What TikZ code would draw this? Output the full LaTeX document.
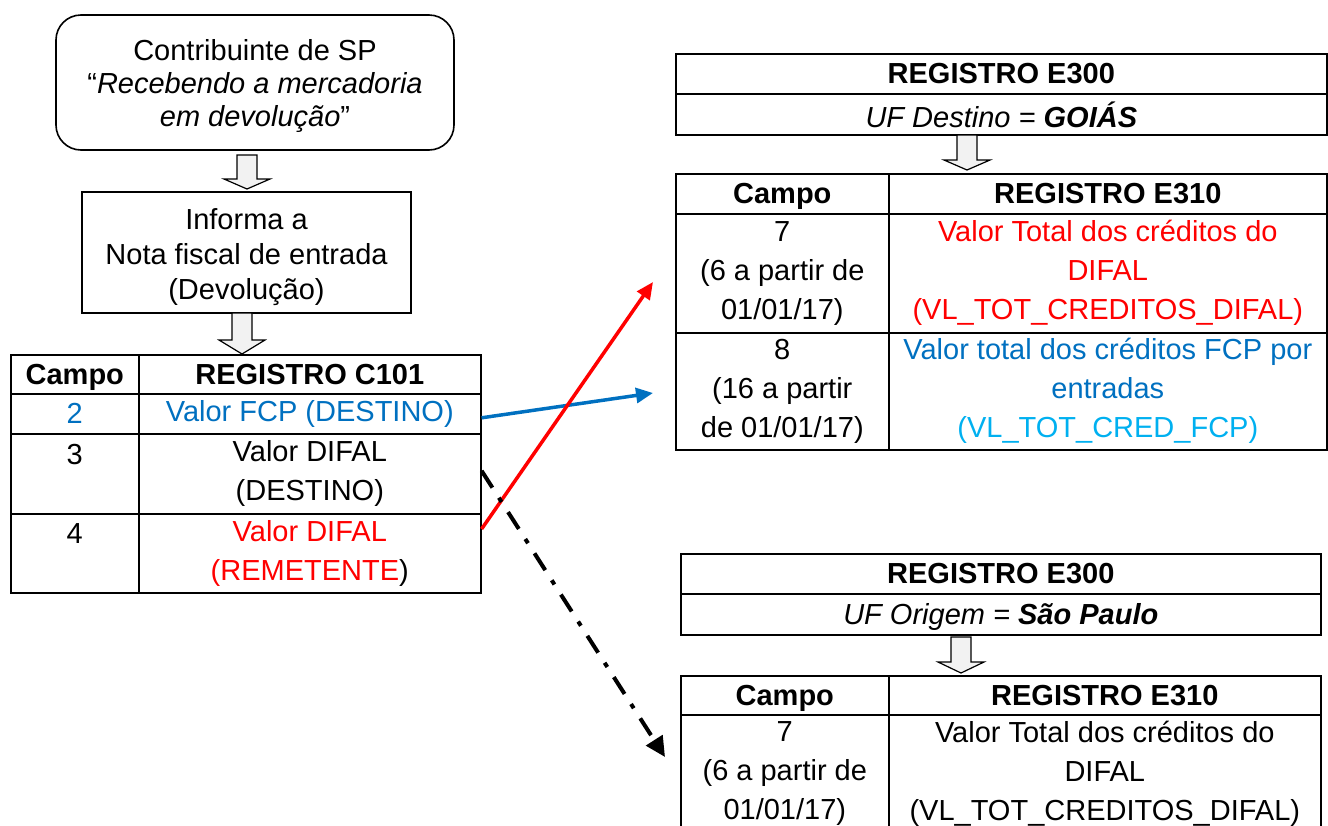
\documentclass[tikz,border=0pt]{standalone}
\usepackage{fontspec}
\setmainfont{Liberation Sans}
\usetikzlibrary{arrows.meta}
\definecolor{myblue}{HTML}{0070C0}
\definecolor{myred}{HTML}{FF0000}
\definecolor{lightblue}{HTML}{00B0F0}
\definecolor{arrowfill}{HTML}{F2F2F2}
\newcommand\hollowarrow[4]{% cx, ytop, ybase, ytip
  \draw[hollow] (#1-10,#2) -- (#1+10,#2) -- (#1+10,#3) -- (#1+23,#3) -- (#1,#4)
    -- (#1-23,#3) -- (#1-10,#3) -- cycle;}
\begin{document}
\begin{tikzpicture}[x=1pt,y=-1pt,
  txt/.style={font=\fontsize{29}{39}\selectfont},
  cell/.style={draw, line width=1.6pt, inner sep=0pt, anchor=north west, align=center, txt},
  flat/.style={text depth=0pt},
  boxstyle/.style={draw, line width=1.6pt, inner sep=0pt, align=center},
  hollow/.style={draw, line width=1.2pt, fill=arrowfill, line join=miter},
  conn/.style={line width=3.5pt, -{Triangle[length=17pt,width=15pt]}},
  conndd/.style={line width=4pt, dash pattern=on 20pt off 12pt on 5pt off 12pt,
    -{Triangle[length=20pt,width=19pt]}},
]
\useasboundingbox (0,0) rectangle (1328,825);
\clip (0,0) rectangle (1328,825);

% left flow
\node[boxstyle, rounded corners=25pt, minimum width=398pt, minimum height=135pt,
  font=\fontsize{29}{33}\selectfont] (start) at (255,82.5)
  {\rule{0pt}{28pt}Contribuinte de SP\\``\textit{Recebendo a mercadoria}\\\textit{em devolução}''};
\node[boxstyle, minimum width=329pt, minimum height=121pt,
  font=\fontsize{29}{35}\selectfont] (nota) at (246.5,252.5)
  {\rule{0pt}{30pt}Informa a\\Nota fiscal de entrada\\(Devolução)};

\hollowarrow{247}{155}{179}{189}
\hollowarrow{242}{313}{340}{354}

% C101 table
\node[cell, flat, minimum width=128pt, minimum height=39pt] (c101h1) at (10,354) {\textbf{Campo}};
\node[cell, flat, minimum width=342pt, minimum height=39pt] (c101h2) at (138,354) {\textbf{REGISTRO C101}};
\node[cell, minimum width=128pt, minimum height=40pt, text=myblue] (c101r2c) at (10,393) {2};
\node[cell, minimum width=342pt, minimum height=40pt, text=myblue] (c101r2d) at (138,393) {Valor FCP (DESTINO)};
\node[cell, minimum width=128pt, minimum height=80pt] (c101r3c) at (10,433) {3\\\phantom{3}};
\node[cell, minimum width=342pt, minimum height=80pt] (c101r3d) at (138,433) {Valor DIFAL\\(DESTINO)};
\node[cell, minimum width=128pt, minimum height=79pt] (c101r4c) at (10,513) {4\\\phantom{4}};
\node[cell, minimum width=342pt, minimum height=79pt, text=myred] (c101r4d) at (138,513)
  {Valor DIFAL\\(REMETENTE{\color{black})}};

% top right: E300 / E310 (Goias)
\node[cell, flat, minimum width=651pt, minimum height=40pt] (e300a) at (675,53) {\textbf{REGISTRO E300}};
\node[cell, flat, minimum width=651pt, minimum height=41pt] (e300b) at (675,93)
  {\textit{UF Destino =} \textbf{\textit{GOIÁS}}};
\hollowarrow{967}{135}{160}{170}
\node[cell, flat, minimum width=213pt, minimum height=40pt] (e310h1) at (675,173) {\textbf{Campo}};
\node[cell, flat, minimum width=438pt, minimum height=40pt] (e310h2) at (888,173) {\textbf{REGISTRO E310}};
\node[cell, minimum width=213pt, minimum height=119pt] (e310r1c) at (675,213)
  {7\\(6 a partir de\\01/01/17)};
\node[cell, minimum width=438pt, minimum height=119pt, text=myred] (e310r1d) at (888,213)
  {Valor Total dos créditos do\\DIFAL\\(VL\_TOT\_CREDITOS\_DIFAL)};
\node[cell, minimum width=213pt, minimum height=117pt] (e310r2c) at (675,332)
  {8\\(16 a partir\\de 01/01/17)};
\node[cell, minimum width=438pt, minimum height=117pt, text=myblue] (e310r2d) at (888,332)
  {Valor total dos créditos FCP por\\entradas\\{\color{lightblue}(VL\_TOT\_CRED\_FCP)}};

% bottom right: E300 / E310 (Sao Paulo)
\node[cell, flat, minimum width=640pt, minimum height=40pt] (s300a) at (680,553) {\textbf{REGISTRO E300}};
\node[cell, flat, minimum width=640pt, minimum height=41pt] (s300b) at (680,593)
  {\textit{UF Origem =} \textbf{\textit{São Paulo}}};
\hollowarrow{961}{637}{662}{673}
\node[cell, flat, minimum width=208pt, minimum height=39pt] (s310h1) at (680,675) {\textbf{Campo}};
\node[cell, flat, minimum width=432pt, minimum height=39pt] (s310h2) at (888,675) {\textbf{REGISTRO E310}};
\node[cell, minimum width=208pt, minimum height=118pt] (s310r1c) at (680,714)
  {7\\(6 a partir de\\01/01/17)};
\node[cell, minimum width=432pt, minimum height=118pt] (s310r1d) at (888,714)
  {Valor Total dos créditos do\\DIFAL\\(VL\_TOT\_CREDITOS\_DIFAL)};

% connectors
\coordinate (blueEnd) at (653,393);
\coordinate (redEnd) at (653,282);
\coordinate (ddEnd) at (665,757);
\draw[conn, myblue] ([yshift=-4pt]c101r2d.east) -- (blueEnd);
\draw[conn, myred] ([yshift=-16pt]c101r4d.north east) -- (redEnd);
\draw[conndd, black] ([yshift=3pt]c101r3d.east) -- (ddEnd);
\end{tikzpicture}
\end{document}
